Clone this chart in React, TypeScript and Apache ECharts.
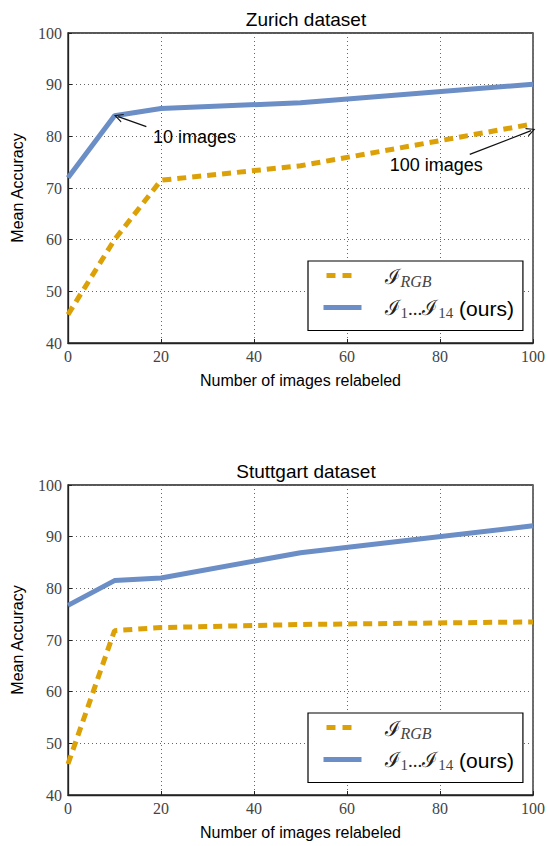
import React, { useEffect, useRef } from "react";
import * as echarts from "echarts";

const xValues = [0, 10, 20, 50, 100];
const zurichRGB = [45.5, 60, 71.5, 74.3, 82.4];
const zurichOurs = [72, 84, 85.4, 86.5, 90.1];
const stuttgartRGB = [46, 71.8, 72.4, 73, 73.5];
const stuttgartOurs = [76.7, 81.5, 82, 86.9, 92.1];
const xTickMin = 0;
const xTickMax = 100;
const xTickStep = 20;
const yTickMin = 40;
const yTickMax = 100;
const yTickStep = 10;
const titles = ["Zurich dataset", "Stuttgart dataset"];
const seriesNames = ["ℐRGB", "ℐ1...ℐ14 (ours)"];
const xAxisTitle = "Number of images relabeled";
const yAxisTitle = "Mean Accuracy";
const annotationTexts = ["10 images", "100 images"];
const annotationTextAt = [
  [27.2, 79.9],
  [79.2, 74.45],
];
const annotationArrowFrom = [
  [16.85, 81.9],
  [86.4, 76.5],
];
const annotationArrowTo = [
  [10.8, 83.8],
  [99.6, 81.1],
];

const ORANGE = "#dba106";
const BLUE = "#6b8ec6";
const SANS = "Liberation Sans";
const SERIF = "Liberation Serif";
const OPEN_ARROW = "path://M0,10 L5,0 L10,10 L8.6,10 L5,2.6 L1.4,10 Z";

export default function App() {
  const ref = useRef<HTMLDivElement>(null);
  useEffect(() => {
    document.body.style.margin = "0";
    const chart = echarts.init(ref.current!, null, { renderer: "svg" });
    const gridTops = [33, 485];
    const grids = gridTops.map((t) => ({
      left: 68,
      top: t,
      width: 467,
      height: 310,
      show: true,
      borderColor: "#222",
      borderWidth: 1.3,
      backgroundColor: "#fff",
    }));
    const xAxes = grids.map((_, i) => ({
      type: "value",
      gridIndex: i,
      min: xTickMin,
      max: xTickMax,
      interval: xTickStep,
      name: xAxisTitle,
      nameLocation: "middle",
      nameGap: 29,
      nameTextStyle: { fontFamily: SANS, fontSize: 16, color: "#000" },
      axisLine: { show: true, lineStyle: { color: "#222", width: 1.3 } },
      axisTick: { show: true, inside: true, length: 4, lineStyle: { color: "#222" } },
      axisLabel: { fontFamily: SERIF, fontSize: 16, color: "#444", margin: 5 },
      splitLine: { show: true, lineStyle: { color: "#666", type: [1, 3], width: 1 } },
    }));
    const yAxes = grids.map((_, i) => ({
      type: "value",
      gridIndex: i,
      min: yTickMin,
      max: yTickMax,
      interval: yTickStep,
      name: yAxisTitle,
      nameLocation: "middle",
      nameGap: 43,
      nameTextStyle: { fontFamily: SANS, fontSize: 16, color: "#000" },
      axisLine: { show: true, lineStyle: { color: "#222", width: 1.3 } },
      axisTick: { show: true, inside: true, length: 4, lineStyle: { color: "#222" } },
      axisLabel: { fontFamily: SERIF, fontSize: 16, color: "#444", margin: 6 },
      splitLine: { show: true, lineStyle: { color: "#666", type: [1, 3], width: 1 } },
    }));
    const datasets = [
      [zurichRGB, zurichOurs],
      [stuttgartRGB, stuttgartOurs],
    ];
    const series: any[] = [];
    datasets.forEach((pair, gi) => {
      pair.forEach((vals, si) => {
        const s: any = {
          type: "line",
          name: seriesNames[si],
          xAxisIndex: gi,
          yAxisIndex: gi,
          symbol: "none",
          data: xValues.map((x, k) => [x, vals[k]]),
          lineStyle: {
            color: si === 0 ? ORANGE : BLUE,
            width: 5,
            type: si === 0 ? [9, 6] : "solid",
            cap: "butt",
          },
          itemStyle: { color: si === 0 ? ORANGE : BLUE },
          z: si === 0 ? 3 : 4,
        };
        series.push(s);
      });
    });
    // annotation layer (arrows + texts) placed in data coordinates of the first grid
    series.push({
      type: "line",
      name: "annotations",
      xAxisIndex: 0,
      yAxisIndex: 0,
      data: [],
      silent: true,
      markLine: {
        silent: true,
        symbol: ["none", OPEN_ARROW],
        symbolSize: [9, 9],
        lineStyle: { color: "#111", width: 1.3, type: "solid" },
        itemStyle: { color: "#111" },
        label: { show: false },
        data: annotationArrowFrom.map((f, k) => [
          { coord: f },
          { coord: annotationArrowTo[k] },
        ]),
      },
      markPoint: {
        silent: true,
        symbol: "circle",
        symbolSize: 2,
        itemStyle: { color: "rgba(255,255,255,0)" },
        label: {
          show: true,
          position: "inside",
          formatter: "{b}",
          fontFamily: SANS,
          fontSize: 18,
          color: "#000",
        },
        data: annotationTexts.map((t, k) => ({
          name: t,
          coord: annotationTextAt[k],
        })),
      },
    });
    const rich = {
      g: { width: 18 },
      i: { fontFamily: "DejaVu Serif", fontSize: 21, color: "#222", lineHeight: 24 },
      s: {
        fontFamily: SERIF,
        fontStyle: "italic",
        fontSize: 16,
        color: "#444",
        padding: [10, 0, 0, 0],
      },
      n: { fontFamily: SERIF, fontSize: 15, color: "#444", padding: [10, 0, 0, 0] },
      d: { fontFamily: SERIF, fontSize: 19, color: "#222" },
      t: { fontFamily: SANS, fontSize: 21, color: "#000" },
    };
    const legends = gridTops.map((t) => ({
      orient: "vertical",
      left: 308,
      top: t + 228,
      padding: [5, 9, 10, 13],
      itemGap: 8,
      itemWidth: 38,
      itemHeight: 12,
      borderColor: "#000",
      borderWidth: 1.2,
      backgroundColor: "#fff",
      itemStyle: { opacity: 0 },
      data: [
        {
          name: seriesNames[0],
          lineStyle: { type: [9, 7, 9, 30], dashOffset: 52, width: 5, cap: "butt" },
        },
        { name: seriesNames[1], lineStyle: { width: 5 } },
      ],
      formatter: (name: string) =>
        name === seriesNames[0]
          ? "{g|}{i|ℐ}{s|RGB}"
          : "{g|}{i|ℐ}{n|1}{d|...}{i|ℐ}{n|14}{t| (ours)}",
      textStyle: { rich, fontSize: 18, height: 24 },
    }));
    chart.setOption({
      animation: false,
      backgroundColor: "#fff",
      title: titles.map((text, i) => ({
        text,
        left: 301,
        textAlign: "center",
        top: gridTops[i] - 28,
        textStyle: { fontFamily: SANS, fontSize: 19, fontWeight: "normal", color: "#000" },
      })),
      grid: grids,
      xAxis: xAxes,
      yAxis: yAxes,
      legend: legends,
      series,
    });
    return () => chart.dispose();
  }, []);
  return <div ref={ref} style={{ width: 548, height: 846 }} />;
}
